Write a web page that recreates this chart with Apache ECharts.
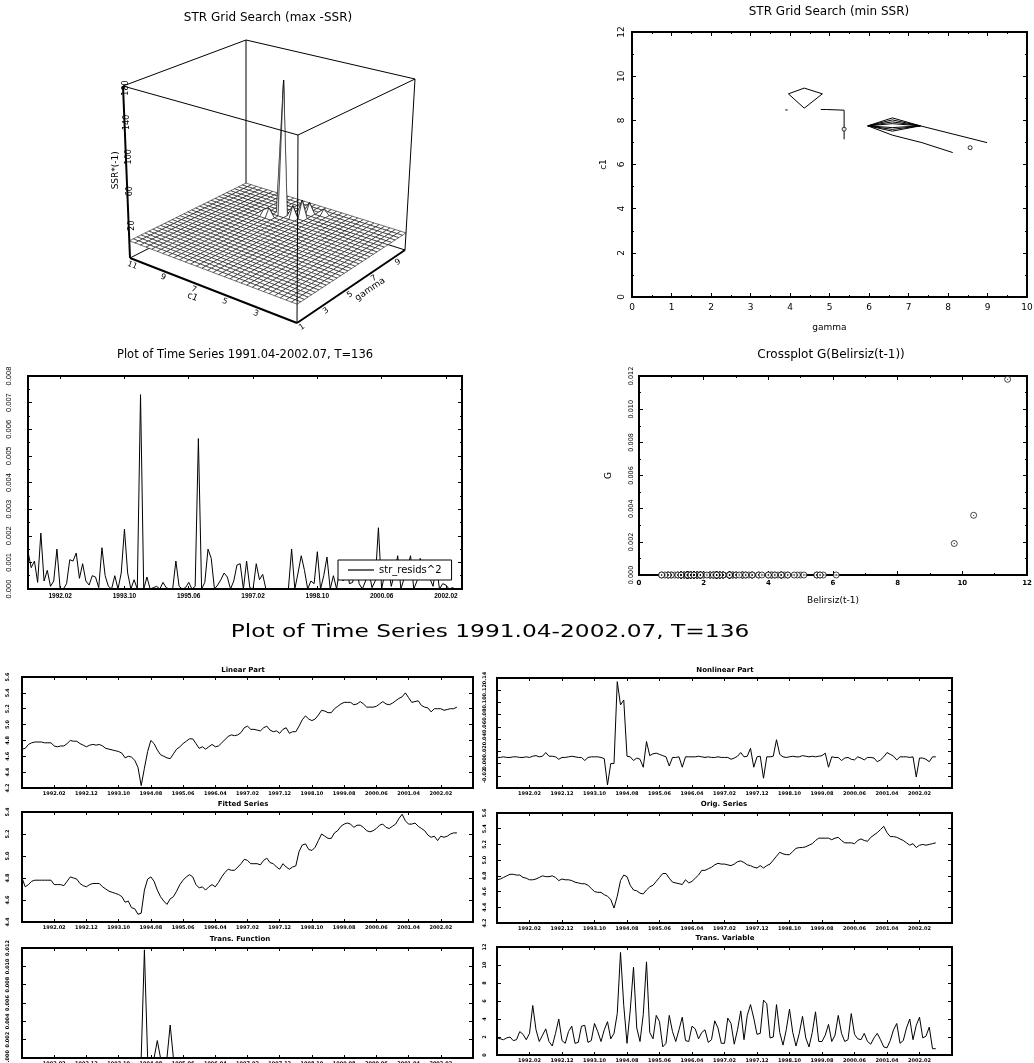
<!DOCTYPE html>
<html>
<head>
<meta charset="utf-8">
<script src="https://cdn.jsdelivr.net/npm/echarts@6/dist/echarts.min.js"></script>
<style>
html,body{margin:0;padding:0;background:#fff;}
#chart{width:1034px;height:1063px;}
</style>
</head>
<body>
<div id="chart"></div>
<script>
// ================= DATA =================
const months = [
 '1991.04','1991.05','1991.06','1991.07','1991.08','1991.09','1991.10','1991.11','1991.12',
 '1992.01','1992.02','1992.03','1992.04','1992.05','1992.06','1992.07','1992.08','1992.09','1992.10','1992.11','1992.12',
 '1993.01','1993.02','1993.03','1993.04','1993.05','1993.06','1993.07','1993.08','1993.09','1993.10','1993.11','1993.12',
 '1994.01','1994.02','1994.03','1994.04','1994.05','1994.06','1994.07','1994.08','1994.09','1994.10','1994.11','1994.12',
 '1995.01','1995.02','1995.03','1995.04','1995.05','1995.06','1995.07','1995.08','1995.09','1995.10','1995.11','1995.12',
 '1996.01','1996.02','1996.03','1996.04','1996.05','1996.06','1996.07','1996.08','1996.09','1996.10','1996.11','1996.12',
 '1997.01','1997.02','1997.03','1997.04','1997.05','1997.06','1997.07','1997.08','1997.09','1997.10','1997.11','1997.12',
 '1998.01','1998.02','1998.03','1998.04','1998.05','1998.06','1998.07','1998.08','1998.09','1998.10','1998.11','1998.12',
 '1999.01','1999.02','1999.03','1999.04','1999.05','1999.06','1999.07','1999.08','1999.09','1999.10','1999.11','1999.12',
 '2000.01','2000.02','2000.03','2000.04','2000.05','2000.06','2000.07','2000.08','2000.09','2000.10','2000.11','2000.12',
 '2001.01','2001.02','2001.03','2001.04','2001.05','2001.06','2001.07','2001.08','2001.09','2001.10','2001.11','2001.12',
 '2002.01','2002.02','2002.03','2002.04','2002.05','2002.06','2002.07','2002.08','2002.09','2002.10','2002.11','2002.12'
];
const sampleLength = 136; // 1991.04 - 2002.07
const midTickLabels = ['1992.02','1993.10','1995.06','1997.02','1998.10','2000.06','2002.02'];
const bottomTickLabels = ['1992.02','1992.12','1993.10','1994.08','1995.06','1996.04','1997.02','1997.12','1998.10','1999.08','2000.06','2001.04','2002.02'];

// str_resids^2 in units of 1e-3
const residSqE3 = [
 1.4,0.8,1.05,0.25,2.1,0.3,0.7,0.1,0.3,1.5,
 0.0,0.0,0.2,1.1,1.05,1.35,0.4,0.95,0.3,0.15,
 0.5,0.45,0.05,1.55,0.5,0.1,0.0,0.5,0.0,0.6,
 2.25,0.6,0.0,0.35,0.0,7.3,0.0,0.45,0.0,0.05,
 0.1,0.0,0.25,0.05,0.0,0.0,1.05,0.1,0.0,0.05,
 0.25,0.0,0.1,5.65,0.0,0.25,1.5,1.15,0.0,0.15,
 0.35,0.6,0.45,0.0,0.3,0.9,0.95,0.0,1.05,0.05,
 0.0,0.95,0.35,0.55,0.0,0.0,0.0,0.0,0.0,0.0,
 0.0,0.0,1.5,0.0,0.6,1.25,0.7,0.0,0.3,0.2,
 1.4,0.0,0.5,1.2,0.0,0.5,0.0,0.8,0.3,0.9,
 0.2,0.25,1.0,0.2,0.0,0.3,0.7,0.05,0.3,2.3,
 0.0,0.6,0.9,0.1,0.6,1.25,0.0,0.4,0.8,1.25,
 0.0,0.3,1.15,0.45,0.35,0.4,0.1,0.9,0.0,0.2,
 0.15,0.0,0.05,0.0,0.02,0.0
];

const linearPart = [
 4.69,4.70,4.75,4.77,4.78,4.78,4.78,4.77,4.77,4.77,
 4.73,4.72,4.73,4.73,4.76,4.80,4.79,4.79,4.76,4.74,
 4.72,4.74,4.75,4.74,4.75,4.73,4.70,4.69,4.68,4.67,
 4.66,4.64,4.58,4.60,4.59,4.55,4.46,4.23,4.45,4.66,
 4.80,4.76,4.68,4.62,4.60,4.58,4.57,4.63,4.69,4.72,
 4.76,4.79,4.82,4.82,4.76,4.70,4.72,4.69,4.72,4.75,
 4.72,4.73,4.77,4.81,4.85,4.87,4.86,4.87,4.90,4.96,
 4.98,4.94,4.94,4.93,4.92,4.96,4.98,4.93,4.91,4.92,
 4.89,4.94,4.96,4.89,4.91,4.91,4.98,5.06,5.11,5.07,
 5.05,5.07,5.12,5.18,5.17,5.15,5.15,5.20,5.23,5.26,
 5.28,5.28,5.28,5.25,5.26,5.29,5.26,5.22,5.22,5.22,
 5.23,5.26,5.29,5.26,5.25,5.27,5.30,5.33,5.35,5.40,
 5.34,5.28,5.29,5.30,5.24,5.22,5.21,5.16,5.20,5.20,
 5.20,5.18,5.19,5.20,5.20,5.22
];

const nonlinearPart = [
 0.010,0.010,0.011,0.010,0.010,0.011,0.011,0.010,0.010,0.011,
 0.010,0.012,0.013,0.011,0.012,0.018,0.012,0.012,0.011,0.007,
 0.010,0.010,0.011,0.012,0.011,0.010,0.010,0.005,0.010,0.011,
 0.011,0.011,0.010,0.008,-0.035,0.000,0.000,0.134,0.096,0.104,
 0.012,0.011,0.005,0.009,0.007,-0.006,0.036,0.013,0.016,0.017,
 0.015,0.013,0.011,-0.004,0.010,0.010,0.011,-0.006,0.011,0.011,
 0.011,0.011,0.012,0.011,0.010,0.011,0.010,0.010,0.011,0.010,
 0.010,0.010,0.007,0.009,0.012,0.018,0.011,0.012,0.025,-0.006,
 0.011,0.012,-0.024,0.011,0.011,0.012,0.039,0.015,0.011,0.010,
 0.011,0.012,0.011,0.011,0.013,0.012,0.011,0.012,0.011,0.012,
 0.013,0.017,-0.006,0.011,0.010,0.010,0.005,0.009,0.010,0.007,
 0.006,0.011,0.009,0.006,0.010,0.010,0.009,0.003,0.006,0.011,
 0.018,0.015,0.012,0.006,0.011,0.011,0.011,0.010,0.011,-0.022,
 0.009,0.009,0.007,0.003,0.011,0.011
];

const fittedSeries = [
 4.80,4.72,4.74,4.77,4.78,4.78,4.78,4.78,4.78,4.78,
 4.74,4.74,4.74,4.73,4.77,4.81,4.80,4.79,4.75,4.73,
 4.72,4.74,4.75,4.75,4.75,4.72,4.70,4.68,4.67,4.66,
 4.65,4.63,4.58,4.59,4.53,4.52,4.47,4.48,4.69,4.79,
 4.81,4.77,4.69,4.63,4.59,4.56,4.61,4.63,4.68,4.74,
 4.78,4.81,4.83,4.81,4.74,4.71,4.72,4.69,4.72,4.74,
 4.72,4.76,4.81,4.85,4.88,4.87,4.87,4.90,4.93,4.97,
 4.96,4.93,4.93,4.93,4.92,4.96,4.98,4.94,4.93,4.90,
 4.88,4.93,4.90,4.88,4.90,4.91,5.04,5.10,5.11,5.06,
 5.05,5.08,5.14,5.20,5.18,5.16,5.16,5.21,5.23,5.27,
 5.29,5.30,5.29,5.26,5.28,5.28,5.26,5.23,5.22,5.23,
 5.25,5.28,5.29,5.26,5.25,5.27,5.29,5.34,5.38,5.32,
 5.29,5.29,5.30,5.27,5.25,5.23,5.19,5.17,5.18,5.14,
 5.18,5.17,5.18,5.20,5.21,5.21
];

const origSeries = [
 4.75,4.76,4.78,4.80,4.82,4.82,4.81,4.81,4.78,4.77,
 4.75,4.75,4.76,4.78,4.80,4.79,4.79,4.80,4.78,4.74,
 4.76,4.75,4.75,4.74,4.72,4.71,4.70,4.70,4.68,4.64,
 4.60,4.59,4.59,4.56,4.54,4.50,4.39,4.54,4.74,4.81,
 4.79,4.68,4.62,4.61,4.58,4.57,4.62,4.66,4.68,4.73,
 4.78,4.83,4.83,4.77,4.72,4.71,4.70,4.69,4.75,4.71,
 4.73,4.77,4.81,4.87,4.87,4.89,4.91,4.94,4.96,4.95,
 4.95,4.94,4.93,4.95,4.98,4.99,4.97,4.94,4.93,4.91,
 4.90,4.93,4.90,4.93,4.95,5.00,5.05,5.10,5.08,5.07,
 5.07,5.11,5.15,5.16,5.16,5.17,5.19,5.21,5.25,5.28,
 5.28,5.28,5.28,5.26,5.28,5.29,5.25,5.22,5.22,5.22,
 5.21,5.25,5.27,5.25,5.24,5.29,5.32,5.35,5.39,5.43,
 5.35,5.30,5.30,5.29,5.27,5.25,5.22,5.19,5.21,5.16,
 5.19,5.20,5.19,5.20,5.21,5.22
];

// transition function G
const transFunction = [
 0,0,0,0,0,0,0,0,0,0,
 0,0,0,0,0,0,0,0,0,0,
 0,0,0,0,0,0,0,0,0,0,
 0,0,0,0,0,0,0,0,0.0118,0,
 0,0,0.0019,0,0,0,0.0036,0,0,0,
 0,0,0,0,0,0,0,0,0,0,
 0,0,0,0,0,0,0,0,0,0,
 0,0,0,0,0,0,0,0,0,0,
 0,0,0,0,0,0,0,0,0,0,
 0,0,0,0,0,0,0,0,0,0,
 0,0,0,0,0,0,0,0,0,0,
 0,0,0,0,0,0,0,0,0,0,
 0,0,0,0,0,0,0,0,0,0,
 0,0,0,0,0,0
];

// transition variable Belirsiz(t-1)
const transVariable = [
 1.9,1.8,1.7,1.9,2.0,1.6,1.7,2.6,2.3,1.7,
 2.4,5.5,2.8,1.5,2.2,2.9,1.5,1.0,2.4,4.0,
 1.6,1.3,2.6,3.2,1.3,1.4,3.2,3.3,1.4,1.6,
 3.5,2.6,1.5,2.8,3.7,1.8,2.4,4.6,11.4,5.5,
 1.3,5.0,9.75,3.0,1.5,4.5,10.35,2.5,1.8,4.4,
 3.7,0.9,1.3,4.4,2.6,1.5,2.8,4.2,1.6,1.5,
 3.2,2.9,1.8,2.5,2.8,1.4,1.7,3.8,3.0,1.3,
 1.3,4.1,3.5,1.2,2.8,4.9,1.7,4.4,5.6,4.1,
 2.3,2.4,6.1,5.7,1.9,2.0,5.6,2.5,1.1,2.8,
 5.1,2.5,1.0,2.4,4.3,1.9,0.9,2.5,4.8,1.5,
 1.5,2.2,3.4,1.5,2.2,4.4,2.4,1.5,1.7,4.6,
 2.3,1.8,1.7,2.4,1.5,1.2,1.9,2.4,1.7,0.9,
 0.8,1.6,2.8,3.5,1.3,1.6,3.0,4.0,1.7,3.3,
 4.2,1.9,2.1,3.1,0.7,0.7
];

// STR grid search contour (min SSR), polylines in (gamma, c1)
const contourLines = [
 [[3.96,9.2],[4.36,9.46],[4.82,9.2],[4.36,8.55],[3.96,9.2]],
 [[3.88,8.47],[3.94,8.47]],
 [[4.78,8.49],[4.92,8.49],[5.37,8.46],[5.37,7.14]],
 [[5.97,7.75],[6.59,8.11],[7.30,7.75],[8.99,6.99]],
 [[5.97,7.75],[6.59,8.02],[7.30,7.75]],
 [[5.97,7.75],[6.59,7.93],[7.30,7.75]],
 [[5.97,7.75],[6.59,7.85],[7.30,7.75]],
 [[5.97,7.75],[6.59,7.67],[7.30,7.75]],
 [[5.97,7.75],[6.59,7.59],[7.30,7.75]],
 [[5.97,7.75],[6.59,7.51],[7.30,7.75]],
 [[5.97,7.75],[6.59,7.33],[7.34,6.99],[8.12,6.54]]
];
const contourMarks = [[5.37,7.6],[8.56,6.76]];

// STR grid search surface (max -SSR)
const gammaGrid = [1.0,1.3,1.6,1.9,2.2,2.5,2.8,3.1,3.4,3.7,4.0,4.3,4.6,4.9,5.2,5.5,5.8,6.1,6.4,6.7,7.0,7.3,7.6,7.9,8.2,8.5,8.8,9.1,9.4,9.7,10.0];
const c1Grid = [0.5,0.86,1.22,1.58,1.94,2.3,2.66,3.02,3.38,3.74,4.1,4.46,4.82,5.18,5.54,5.9,6.26,6.62,6.98,7.34,7.7,8.06,8.42,8.78,9.14,9.5,9.86,10.22,10.58,10.94,11.3];
const surfaceBase = 0;
// [gamma index, c1 index, SSR*(-1)]
const surfacePeaks = [[24,19,161],[22,21,6],[22,20,10],[24,17,14],[25,16,20],[27,16,12],[28,14,6]];
const zRange3d = [-20,180];
const zTicks3d = [20,60,100,140,180];
const c1Ticks3d = [3,5,7,9,11];
const gammaTicks3d = [1,3,5,7,9];

// ================= LAYOUT =================
const BLACK = '#000';
const FONT = 'DejaVu Sans';
const rects = {
  contour:   {left:632, top:32,  width:395, height:265},
  resid:     {left:28,  top:376, width:434, height:213},
  cross:     {left:639, top:376, width:388, height:199},
  linear:    {left:22,  top:677, width:451, height:111},
  nonlinear: {left:497, top:678, width:455, height:110},
  fitted:    {left:22,  top:812, width:451, height:110},
  orig:      {left:497, top:813, width:455, height:110},
  transFn:   {left:22,  top:948, width:451, height:110},
  transVar:  {left:497, top:947, width:455, height:108}
};
// screen anchors of the 3D frame corners
const frame3d = {F:[297,323],R:[405,250],L:[130,258],B:[246,199],Ft:[298,135],Rt:[415,79],Lt:[123,86],Bt:[246,40]};

// ================= BUILD =================
const grids = [], xAxis = [], yAxis = [], series = [];
const midTickSet = new Set(midTickLabels), bottomTickSet = new Set(bottomTickLabels);

function valueAxis(gi, position, o, mirror){
  return {
    type:'value', gridIndex:gi, position, min:o.min, max:o.max, interval:o.interval,
    axisLine:{show:true, onZero:false, lineStyle:{color:BLACK, width:2}},
    axisTick:{show:true, inside:true, length:o.tickLen||4, lineStyle:{color:BLACK, width:1}},
    minorTick:{show:!!o.minor, splitNumber:o.minor||2, length:2, lineStyle:{color:BLACK, width:1}},
    splitLine:{show:false}, minorSplitLine:{show:false},
    axisLabel: mirror ? {show:false} : Object.assign({show:true, color:BLACK, fontFamily:FONT}, o.label),
    name: mirror ? '' : (o.name||''), nameLocation:'middle', nameGap:o.nameGap||20,
    nameTextStyle:Object.assign({color:BLACK, fontFamily:FONT}, o.nameStyle||{}),
    silent:true
  };
}
function categoryAxis(gi, position, o, mirror){
  const pick = (i, v) => o.ticks.has(v);
  return {
    type:'category', gridIndex:gi, position, data:o.data, boundaryGap:false,
    axisLine:{show:true, onZero:false, lineStyle:{color:BLACK, width:2}},
    axisTick:{show:true, inside:true, interval:pick, length:o.tickLen||3, lineStyle:{color:BLACK, width:1}},
    splitLine:{show:false},
    axisLabel: mirror ? {show:false, interval:pick} : Object.assign({show:true, color:BLACK, interval:pick, fontFamily:FONT}, o.label),
    silent:true
  };
}
function addPanel(rect, xo, yo){
  const gi = grids.length;
  grids.push(Object.assign({show:true, borderColor:BLACK, borderWidth:2, backgroundColor:'rgba(0,0,0,0)', outerBoundsMode:'none', containLabel:false}, rect));
  const mk = (o, pos, mirror) => o.type === 'category' ? categoryAxis(gi, pos, o, mirror) : valueAxis(gi, pos, o, mirror);
  const xi = xAxis.length; xAxis.push(mk(xo,'bottom',false), mk(xo,'top',true));
  const yi = yAxis.length; yAxis.push(mk(yo,'left',false), mk(yo,'right',true));
  return {xAxisIndex:xi, yAxisIndex:yi};
}
function line(ax, data, name, w){
  return Object.assign({type:'line', name, data, showSymbol:false, symbol:'none', silent:true,
    lineStyle:{color:BLACK, width:w||1}, itemStyle:{color:BLACK}, z:2}, ax);
}

// ---- contour panel
const axC = addPanel(rects.contour,
  {min:0, max:10, interval:1, minor:2, label:{fontSize:9, margin:6}, name:'gamma', nameGap:26, nameStyle:{fontSize:9}},
  {min:0, max:12, interval:2, minor:2, label:{fontSize:9, margin:6, rotate:90}, name:'c1', nameGap:24, nameStyle:{fontSize:9}});
contourLines.forEach((pts, k) => series.push(line(axC, pts, 'contour' + k, 1)));
series.push(Object.assign({type:'scatter', name:'contourMark', data:contourMarks, symbol:'circle', symbolSize:4, silent:true,
  itemStyle:{color:'#fff', borderColor:BLACK, borderWidth:1}, z:3}, axC));

// ---- residual plot
const axR = addPanel(rects.resid,
  {type:'category', data:months.slice(0, sampleLength), ticks:midTickSet, label:{fontSize:6.5, fontWeight:'bold', fontFamily:'Liberation Sans', margin:4}},
  {min:0, max:0.008, interval:0.001, minor:2, label:{fontSize:7.5, rotate:90, margin:15, fontFamily:'Liberation Sans', formatter:v => v.toFixed(3)}});
series.push(line(axR, residSqE3.map(v => v / 1000), 'str_resids^2', 1));

// ---- crossplot
const axX = addPanel(rects.cross,
  {min:0, max:12, interval:2, minor:2, label:{fontSize:7, fontWeight:'bold', margin:5}, name:'Belirsiz(t-1)', nameGap:21, nameStyle:{fontSize:9}},
  {min:0, max:0.012, interval:0.002, minor:2, label:{fontSize:6.5, rotate:90, margin:4, formatter:v => v.toFixed(3)}, name:'G', nameGap:26, nameStyle:{fontSize:9}});
const crossData = transVariable.map((x, i) => [x, transFunction[i]]);
series.push(Object.assign({type:'scatter', name:'cross', data:crossData, symbol:'circle', symbolSize:6, silent:true,
  itemStyle:{color:'#fff', borderColor:BLACK, borderWidth:0.9}, z:3}, axX));
series.push(Object.assign({type:'scatter', name:'crossDot', data:crossData, symbol:'circle', symbolSize:1.3, silent:true,
  itemStyle:{color:BLACK}, z:4}, axX));

// ---- bottom six panels
const bottomX = {type:'category', data:months, ticks:bottomTickSet, label:{fontSize:5, fontWeight:'bold', margin:3}};
const yLab = (fmt, margin) => ({fontSize:5, fontWeight:'bold', rotate:90, margin, formatter:v => v.toFixed(fmt)});
const axLin = addPanel(rects.linear, bottomX, {min:4.2, max:5.6, interval:0.2, label:yLab(1, 12)});
series.push(line(axLin, linearPart, 'Linear Part'));
const axNon = addPanel(rects.nonlinear, bottomX, {min:-0.04, max:0.14, interval:0.02, label:yLab(2, 10)});
series.push(line(axNon, nonlinearPart, 'Nonlinear Part'));
const axFit = addPanel(rects.fitted, bottomX, {min:4.4, max:5.4, interval:0.2, label:yLab(1, 12)});
series.push(line(axFit, fittedSeries, 'Fitted Series'));
const axOrig = addPanel(rects.orig, bottomX, {min:4.2, max:5.6, interval:0.2, label:yLab(1, 10)});
series.push(line(axOrig, origSeries, 'Orig. Series'));
const axTF = addPanel(rects.transFn, bottomX, {min:0, max:0.012, interval:0.002, label:yLab(3, 12)});
series.push(line(axTF, transFunction, 'Trans. Function'));
const axTV = addPanel(rects.transVar, bottomX, {min:0, max:12, interval:2, label:yLab(0, 10)});
series.push(line(axTV, transVariable, 'Trans. Variable'));

// ---- 3D surface (projected with a trilinear frame mapping)
const G0 = gammaGrid[0], G1 = gammaGrid[gammaGrid.length - 1];
const C0 = c1Grid[0], C1 = c1Grid[c1Grid.length - 1];
const Z0 = zRange3d[0], Z1 = zRange3d[1];
function p3(g, c, z){
  const a = (g - G0) / (G1 - G0), b = (c - C0) / (C1 - C0), w = (z - Z0) / (Z1 - Z0);
  const A = frame3d;
  const bil = (P, Q, R, S) => [0, 1].map(k => P[k]*(1-a)*(1-b) + Q[k]*a*(1-b) + R[k]*(1-a)*b + S[k]*a*b);
  const lo = bil(A.F, A.R, A.L, A.B), hi = bil(A.Ft, A.Rt, A.Lt, A.Bt);
  return [lo[0]*(1-w) + hi[0]*w, lo[1]*(1-w) + hi[1]*w];
}
const surfaceZ = gammaGrid.map(() => c1Grid.map(() => surfaceBase));
surfacePeaks.forEach(([gi, ci, z]) => { surfaceZ[gi][ci] = z; });
const cells = [];
for (let gi = 0; gi < gammaGrid.length - 1; gi++)
  for (let ci = 0; ci < c1Grid.length - 1; ci++) cells.push([gi, ci]);
cells.sort((p, q) => (q[0] + q[1]) - (p[0] + p[1]));

const corner3d = {
  F:[G0,C0,Z0], R:[G1,C0,Z0], L:[G0,C1,Z0], B:[G1,C1,Z0],
  Ft:[G0,C0,Z1], Rt:[G1,C0,Z1], Lt:[G0,C1,Z1], Bt:[G1,C1,Z1]
};
const backEdges = [['B','Bt',1],['Bt','Lt',1],['Bt','Rt',1],['B','L',1],['B','R',1]];
const frontEdges = [['Lt','Ft',1],['Ft','Rt',1],['L','Lt',2],['F','Ft',1],['R','Rt',1],['F','L',2],['F','R',2]];
function edgeSeries(edges, z){
  return {type:'custom', coordinateSystem:'none', silent:true, z, clip:false,
    data:edges.map((e, i) => [i]),
    renderItem:(params) => {
      const e = edges[params.dataIndex];
      const p = p3(...corner3d[e[0]]), q = p3(...corner3d[e[1]]);
      return {type:'line', shape:{x1:p[0], y1:p[1], x2:q[0], y2:q[1]}, style:{stroke:BLACK, lineWidth:e[2]}};
    }};
}
series.push(edgeSeries(backEdges, 1));
series.push({type:'custom', coordinateSystem:'none', silent:true, z:2, clip:false,
  data:cells,
  renderItem:(params, api) => {
    const gi = api.value(0), ci = api.value(1);
    const pts = [[gi,ci],[gi+1,ci],[gi+1,ci+1],[gi,ci+1]].map(([g, c]) => p3(gammaGrid[g], c1Grid[c], surfaceZ[g][c]));
    return {type:'polygon', z2:params.dataIndex, shape:{points:pts}, style:{fill:'#fff', stroke:BLACK, lineWidth:0.55}};
  }});
series.push(edgeSeries(frontEdges, 3));

const labels3d = [];
zTicks3d.forEach(z => labels3d.push({text:String(z), at:[G0, C1, z], off:[3, 2], rot:Math.PI/2}));
c1Ticks3d.forEach(c => labels3d.push({text:String(c), at:[G0, c, Z0], off:[-2.5, 5.5], rot:-0.37}));
gammaTicks3d.forEach(g => labels3d.push({text:String(g), at:[g, C0, Z0], off:[5, 4], rot:0.6}));
labels3d.push({text:'SSR*(-1)', at:[G0, C1, 82], off:[-11, 0], rot:Math.PI/2, size:9});
labels3d.push({text:'c1', at:[G0, 7, Z0], off:[-4, 13], rot:-0.37, size:9});
labels3d.push({text:'gamma', at:[7, C0, Z0], off:[1, 15], rot:0.6, size:9});
series.push({type:'custom', coordinateSystem:'none', silent:true, z:4, clip:false,
  data:labels3d.map((l, i) => [i]),
  renderItem:(params) => {
    const l = labels3d[params.dataIndex];
    const p = p3(...l.at);
    return {type:'text', x:p[0] + l.off[0], y:p[1] + l.off[1], rotation:l.rot,
      style:{text:l.text, fill:BLACK, font:(l.size||8) + 'px ' + FONT, align:'center', verticalAlign:'middle', textAlign:'center', textVerticalAlign:'middle'}};
  }});

// ---- titles
const titleTexts = [
  {text:'STR Grid Search (max -SSR)', x:268, y:18, font:'12px ' + FONT},
  {text:'STR Grid Search (min SSR)', x:829, y:12, font:'12px ' + FONT},
  {text:'Plot of Time Series 1991.04-2002.07, T=136', x:245, y:355, font:'11.5px ' + FONT},
  {text:'Crossplot G(Belirsiz(t-1))', x:831, y:355, font:'12px ' + FONT},
  {text:'Plot of Time Series 1991.04-2002.07, T=136', x:490, y:633, font:'17px ' + FONT, scaleX:1.37},
  {text:'Linear Part', x:243, y:670, font:'bold 7px ' + FONT},
  {text:'Nonlinear Part', x:725, y:670, font:'bold 7px ' + FONT},
  {text:'Fitted Series', x:243, y:804, font:'bold 7px ' + FONT},
  {text:'Orig. Series', x:724, y:804, font:'bold 7px ' + FONT},
  {text:'Trans. Function', x:240, y:939, font:'bold 7px ' + FONT},
  {text:'Trans. Variable', x:725, y:938, font:'bold 7px ' + FONT}
];
const graphic = titleTexts.map(t => ({type:'text', x:t.x, y:t.y, scaleX:t.scaleX||1, silent:true,
  style:{text:t.text, font:t.font, fill:BLACK, align:'center', verticalAlign:'middle', textAlign:'center', textVerticalAlign:'middle'}}));

const chart = echarts.init(document.getElementById('chart'), null, {renderer:'canvas', width:1034, height:1063});
chart.setOption({
  animation:false,
  backgroundColor:'#fff',
  textStyle:{fontFamily:FONT, color:BLACK},
  grid:grids, xAxis, yAxis, series, graphic,
  legend:{data:[{name:'str_resids^2'}], left:338, top:560, orient:'horizontal', icon:'rect', itemWidth:26, itemHeight:1.2,
    padding:[5,10,5,10], borderColor:BLACK, borderWidth:1, borderRadius:0, backgroundColor:'#fff', selectedMode:false,
    textStyle:{fontSize:10, color:BLACK, fontFamily:FONT}, z:10}
});
</script>
</body>
</html>
